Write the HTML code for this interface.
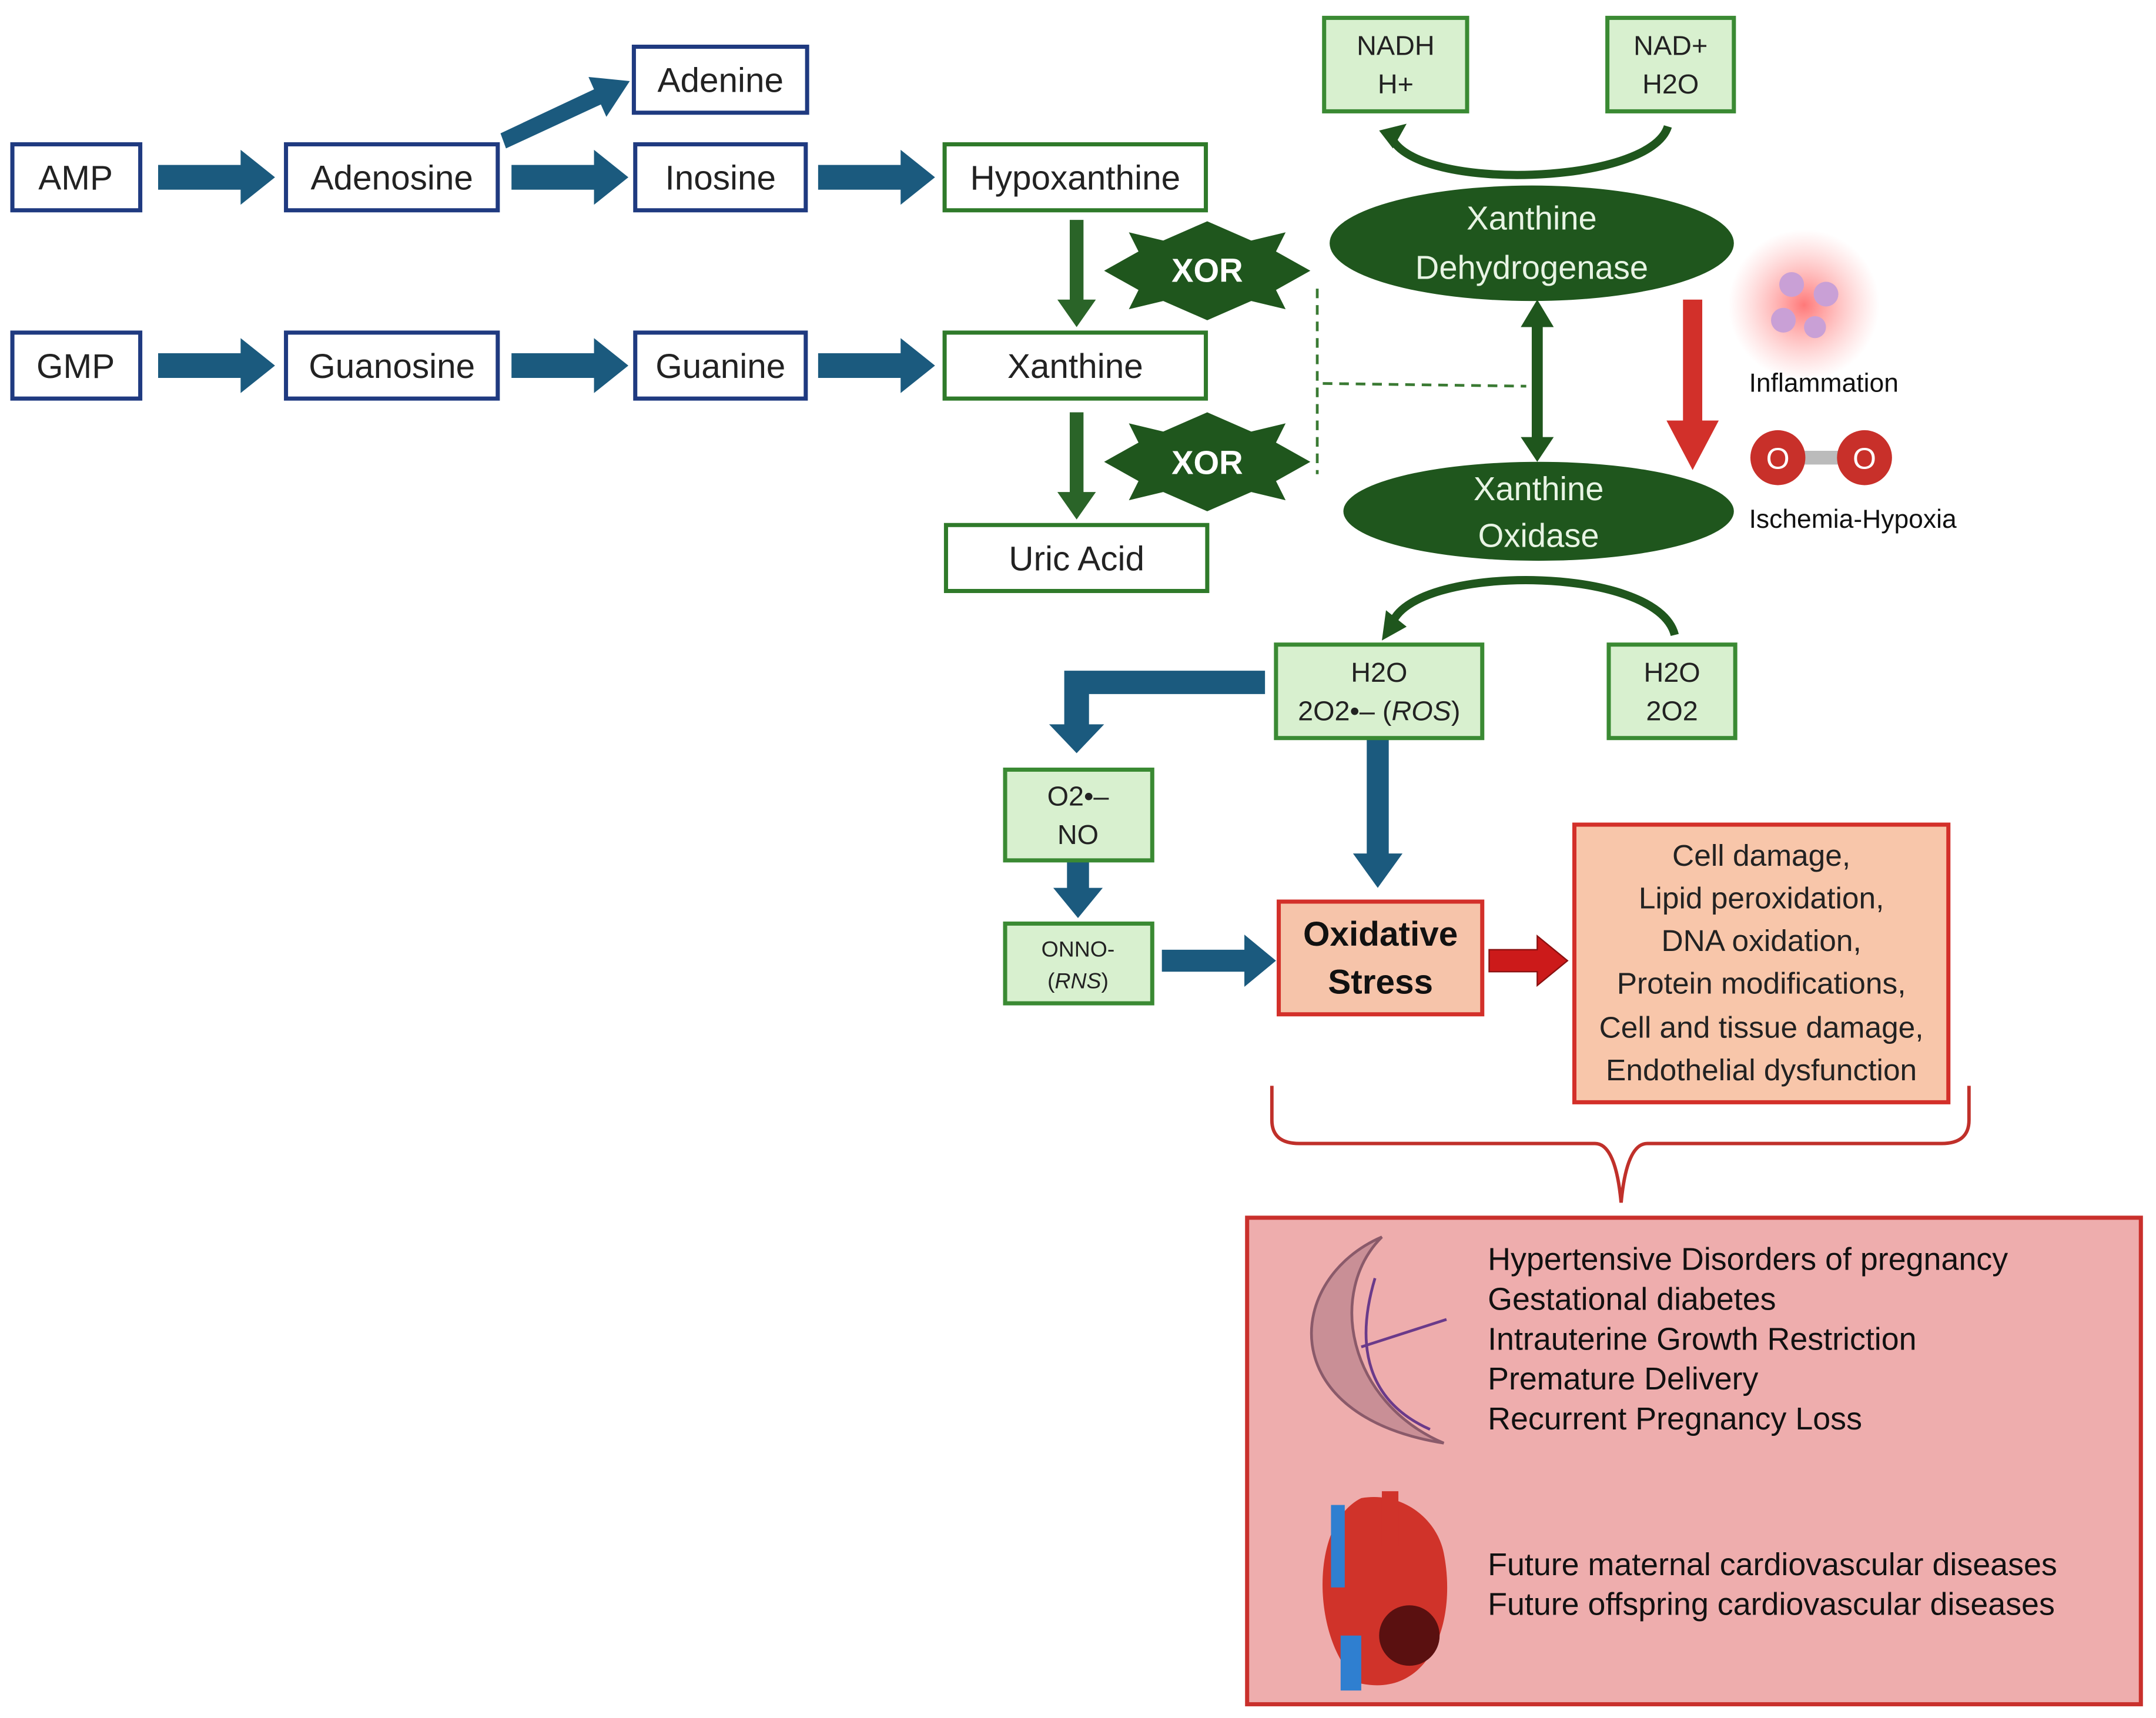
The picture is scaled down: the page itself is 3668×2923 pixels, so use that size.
<!DOCTYPE html>
<html><head><meta charset="utf-8"><style>
html,body{margin:0;padding:0;background:#fff}
svg{display:block}
text{font-family:"Liberation Sans",sans-serif}
</style></head><body>
<svg width="3668" height="2923" viewBox="0 0 1568 1250" preserveAspectRatio="none" xmlns="http://www.w3.org/2000/svg">
<defs>
<radialGradient id="glow"><stop offset="0" stop-color="#ff6a6a" stop-opacity="0.9"/><stop offset="1" stop-color="#ff9a9a" stop-opacity="0"/></radialGradient>
</defs>
<rect width="1568" height="1250" fill="#fff"/>
<g fill="#fff" stroke="#1f3a80" stroke-width="3">
<rect x="9" y="105" width="93" height="48"/>
<rect x="208" y="105" width="154" height="48"/>
<rect x="462" y="105" width="124" height="48"/>
<rect x="461" y="34" width="126" height="48"/>
<rect x="9" y="242" width="93" height="48"/>
<rect x="208" y="242" width="154" height="48"/>
<rect x="462" y="242" width="124" height="48"/>
</g>
<g fill="#fff" stroke="#2f7a2a" stroke-width="3">
<rect x="687" y="105" width="190" height="48"/>
<rect x="687" y="242" width="190" height="48"/>
<rect x="688" y="382" width="190" height="48"/>
</g>
<g font-size="25" fill="#222" text-anchor="middle">
<text x="55" y="138">AMP</text><text x="285" y="138">Adenosine</text><text x="524" y="138">Inosine</text>
<text x="524" y="67">Adenine</text><text x="782" y="138">Hypoxanthine</text>
<text x="55" y="275">GMP</text><text x="285" y="275">Guanosine</text><text x="524" y="275">Guanine</text>
<text x="782" y="275">Xanthine</text><text x="783" y="415">Uric Acid</text>
</g>
<g fill="#1b5a7e">
<path d="M115,120h60v-11l25,20l-25,20v-11h-60z"/>
<path d="M372,120h60v-11l25,20l-25,20v-11h-60z"/>
<path d="M595,120h60v-11l25,20l-25,20v-11h-60z"/>
<path d="M115,257h60v-11l25,20l-25,20v-11h-60z"/>
<path d="M372,257h60v-11l25,20l-25,20v-11h-60z"/>
<path d="M595,257h60v-11l25,20l-25,20v-11h-60z"/>
<path d="M364,97l68,-32l-4,-9l30,3l-17,26l-4,-9l-69,32z"/>
<path d="M920,488v17h-128v22h11l-20,21l-20,-21h11v-39z"/>
<path d="M776,626h16v20h10l-18,22l-18,-22h10z"/>
<path d="M845,691h60v-11l23,19l-23,19v-11h-60z"/>
<path d="M994,537h16v84h10l-18,25l-18,-25h10z"/>
</g>
<g fill="#2a6428">
<path d="M778,160h10v58h9l-14,20l-14,-20h9z"/>
<path d="M778,300h10v58h9l-14,20l-14,-20h9z"/>
</g>
<g fill="#1f561d">
<path d="M803,197l25,-14l-7,-14l25,6l32,-14l32,14l25,-6l-7,14l25,14l-25,14l7,14l-25,-6l-32,14l-32,-14l-25,6l7,-14z"/>
<path d="M803,336l25,-14l-7,-14l25,6l32,-14l32,14l25,-6l-7,14l25,14l-25,14l7,14l-25,-6l-32,14l-32,-14l-25,6l7,-14z"/>
</g>
<g font-size="24" font-weight="bold" fill="#fff" text-anchor="middle"><text x="878" y="205">XOR</text><text x="878" y="345">XOR</text></g>
<g stroke="#3a7a33" stroke-width="2" stroke-dasharray="7,5" fill="none">
<path d="M958,210V345"/><path d="M962,279L1110,281"/>
</g>
<g fill="#d8f0cf" stroke="#3a8a33" stroke-width="3">
<rect x="963" y="13" width="104" height="68"/><rect x="1169" y="13" width="92" height="68"/>
<rect x="928" y="469" width="150" height="68"/><rect x="1170" y="469" width="92" height="68"/>
<rect x="731" y="560" width="107" height="66"/><rect x="731" y="672" width="107" height="58"/>
</g>
<g font-size="20" fill="#222" text-anchor="middle">
<text x="1015" y="40">NADH</text><text x="1015" y="68">H+</text>
<text x="1215" y="40">NAD+</text><text x="1215" y="68">H2O</text>
<text x="1003" y="496">H2O</text><text x="1003" y="524">2O2•– (<tspan font-style="italic">ROS</tspan>)</text>
<text x="1216" y="496">H2O</text><text x="1216" y="524">2O2</text>
<text x="784" y="586">O2•–</text><text x="784" y="614">NO</text>
<text x="784" y="696" font-size="16">ONNO-</text><text x="784" y="719" font-size="16">(<tspan font-style="italic">RNS</tspan>)</text>
</g>
<g fill="none" stroke="#1f561d" stroke-width="6">
<path d="M1213,92C1200,135 1030,140 1012,100"/>
<path d="M1218,462C1205,410 1025,410 1012,455"/>
</g>
<g fill="#1f561d">
<path d="M1003,95l20,-5l-10,18z"/>
<path d="M1005,466l3,-22l15,12z"/>
</g>
<ellipse cx="1114" cy="177" rx="147" ry="42" fill="#1f561d"/>
<ellipse cx="1119" cy="372" rx="142" ry="36" fill="#1f561d"/>
<g font-size="24" fill="#e8f4e4" text-anchor="middle">
<text x="1114" y="167">Xanthine</text><text x="1114" y="203">Dehydrogenase</text>
<text x="1119" y="364">Xanthine</text><text x="1119" y="398">Oxidase</text>
</g>
<g fill="#1f561d"><path d="M1114,238h8v80h8l-12,18l-12,-18h8z"/><path d="M1118,218l12,20h-24z"/></g>
<path d="M1224,218h14v88h12l-19,36l-19,-36h12z" fill="#d2302a"/>
<circle cx="1312" cy="222" r="55" fill="url(#glow)"/>
<g fill="#c9a0d6"><circle cx="1303" cy="207" r="9"/><circle cx="1328" cy="214" r="9"/><circle cx="1297" cy="233" r="9"/><circle cx="1320" cy="238" r="8"/></g>
<text x="1272" y="285" font-size="19" fill="#111">Inflammation</text>
<rect x="1300" y="328" width="50" height="10" fill="#bbb"/>
<circle cx="1293" cy="333" r="20" fill="#c8302a"/><circle cx="1356" cy="333" r="20" fill="#c8302a"/>
<g font-size="22" fill="#fff" text-anchor="middle"><text x="1293" y="341">O</text><text x="1356" y="341">O</text></g>
<text x="1272" y="384" font-size="19" fill="#111">Ischemia-Hypoxia</text>
<rect x="930" y="656" width="148" height="82" fill="#f6c4aa" stroke="#d3302a" stroke-width="3"/>
<g font-size="25" font-weight="bold" fill="#111" text-anchor="middle"><text x="1004" y="688">Oxidative</text><text x="1004" y="723">Stress</text></g>
<path d="M1083,691h35v-10l22,18l-22,18v-10h-35z" fill="#cc1a1a" stroke="#8a1010" stroke-width="1"/>
<rect x="1145" y="600" width="272" height="202" fill="#f8c6aa" stroke="#d3302a" stroke-width="3"/>
<g font-size="22" fill="#222" text-anchor="middle">
<text x="1281" y="630">Cell damage,</text><text x="1281" y="661">Lipid peroxidation,</text>
<text x="1281" y="692">DNA oxidation,</text><text x="1281" y="723">Protein modifications,</text>
<text x="1281" y="755">Cell and tissue damage,</text><text x="1281" y="786">Endothelial dysfunction</text>
</g>
<path d="M925,790V815Q925,832 945,832H1160Q1175,832 1179,875Q1183,832 1198,832H1412Q1432,832 1432,815V790" fill="none" stroke="#c0302a" stroke-width="2.5"/>
<rect x="907" y="886" width="650" height="354" fill="#eeadad" stroke="#c9302c" stroke-width="3"/>
<path d="M1005,900C935,930 925,1030 1050,1050C980,1020 965,940 1005,900z" fill="#c98f96" stroke="#8a5a6a" stroke-width="2"/>
<path d="M1000,930C985,980 995,1020 1040,1040M990,980L1052,960" stroke="#6a3a8a" stroke-width="2" fill="none"/>
<path d="M990,1090C950,1110 955,1200 990,1225C1040,1235 1060,1180 1050,1130C1045,1105 1020,1085 990,1090z" fill="#d0332a"/>
<rect x="968" y="1095" width="10" height="60" fill="#2f7fd0"/>
<rect x="1005" y="1085" width="12" height="40" fill="#d0332a"/>
<path d="M975,1190h15v40h-15z" fill="#2f7fd0"/>
<circle cx="1025" cy="1190" r="22" fill="#5a1010"/>
<g font-size="23" fill="#111">
<text x="1082" y="924">Hypertensive Disorders of pregnancy</text>
<text x="1082" y="953">Gestational diabetes</text>
<text x="1082" y="982">Intrauterine Growth Restriction</text>
<text x="1082" y="1011">Premature Delivery</text>
<text x="1082" y="1040">Recurrent Pregnancy Loss</text>
<text x="1082" y="1146">Future maternal cardiovascular diseases</text>
<text x="1082" y="1175">Future offspring cardiovascular diseases</text>
</g>
</svg>
</body></html>
